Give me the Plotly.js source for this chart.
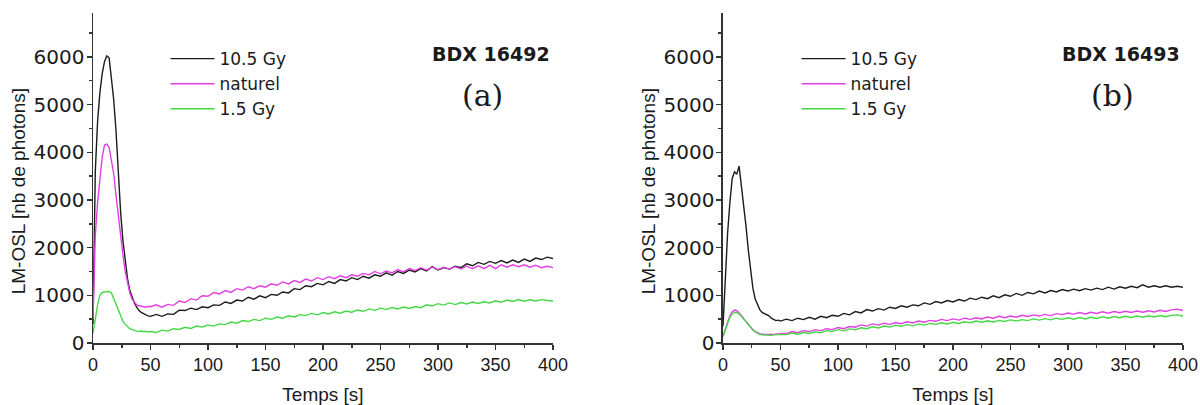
<!DOCTYPE html>
<html>
<head>
<meta charset="utf-8">
<script src="https://cdn.plot.ly/plotly-3.0.1.min.js"></script>
<style>html,body{margin:0;padding:0;background:#fff;}#chart{width:1200px;height:405px;}</style>
</head>
<body>
<div id="chart"></div>
<script>
// Time axis [s]
const T = [0,2,4,6,8,10,12,14,16,18,20,22,24,26,28,30,32,34,36,38,40,42,44,46,48,50,
55,60,65,70,75,80,85,90,95,100,105,110,115,120,125,130,135,140,145,150,155,160,165,170,175,180,185,190,195,200,
205,210,215,220,225,230,235,240,245,250,255,260,265,270,275,280,285,290,295,300,305,310,315,320,325,330,335,340,345,350,
355,360,365,370,375,380,385,390,395,400];

const seriesNames = ['10.5 Gy', 'naturel', '1.5 Gy'];
const panelLabels = ['BDX 16492', 'BDX 16493'];
const panelLetters = ['(a)', '(b)'];
const xTitle = 'Temps [s]';
const yTitle = 'LM-OSL [nb de photons]';

// Panel (a) BDX 16492
const a_105Gy = [400,3600,4650,5250,5650,5900,6020,5980,5550,5100,4450,3500,2750,2150,1740,1350,1100,950,840,750,680,640,610,590,570,560,
600,560,610,600,690,680,730,700,760,740,
800,790,860,830,900,880,960,920,990,950,
1020,1000,1070,1050,1140,1120,1200,1180,1250,1220,
1290,1250,1330,1300,1370,1330,1400,1360,1430,1400,
1470,1420,1500,1460,1530,1490,1560,1510,1600,1530,
1580,1550,1610,1580,1660,1620,1690,1650,1710,1670,
1730,1680,1740,1690,1760,1710,1780,1750,1800,1770];
const a_naturel = [500,2250,2950,3450,3900,4150,4170,4100,3850,3550,3100,2650,2250,1850,1500,1250,1050,920,850,800,780,770,760,750,770,760,
800,750,810,790,880,850,930,900,990,980,
1060,1030,1100,1060,1140,1110,1180,1140,1200,1170,
1240,1210,1280,1240,1310,1270,1340,1300,1370,1330,
1390,1350,1410,1370,1430,1400,1460,1430,1500,1450,
1510,1470,1540,1490,1560,1520,1580,1530,1590,1540,
1590,1550,1600,1550,1610,1560,1620,1560,1630,1560,
1640,1590,1640,1600,1640,1590,1630,1580,1610,1580];
const a_15Gy = [200,520,800,1000,1060,1070,1080,1080,1050,930,790,660,540,460,390,340,300,280,260,250,240,250,235,245,230,240,
220,270,250,300,285,330,305,355,335,380,
355,400,385,440,415,470,450,495,470,520,
495,545,520,570,545,595,575,620,590,640,
610,655,625,670,645,690,665,715,685,730,
700,745,715,755,725,765,740,800,775,825,
795,840,805,850,820,860,830,865,840,885,
855,900,870,910,875,905,880,910,890,880];

// Panel (b) BDX 16493
const b_105Gy = [350,1400,2300,2950,3450,3590,3540,3710,3300,2950,2450,1950,1500,1150,920,800,700,640,620,600,570,520,490,470,480,460,
500,470,520,490,540,500,560,530,580,560,
620,590,660,630,700,670,720,690,750,725,
780,750,800,780,840,810,870,840,890,860,
910,880,940,910,960,930,990,950,1010,980,
1040,1000,1060,1030,1090,1050,1100,1070,1120,1090,
1130,1095,1140,1110,1150,1120,1170,1130,1180,1150,
1190,1160,1220,1170,1200,1170,1200,1170,1190,1170];
const b_naturel = [150,300,450,570,650,690,680,640,580,510,450,390,330,280,240,210,195,185,180,175,180,185,175,190,185,200,
195,240,215,260,240,280,260,300,280,325,
300,345,330,380,355,400,375,415,390,430,
405,445,420,460,435,475,455,495,470,505,
480,520,495,530,505,545,520,560,530,565,
540,580,555,590,565,600,575,615,595,630,
605,640,610,645,620,655,625,660,635,665,
640,670,645,675,650,685,660,695,710,680];
const b_15Gy = [130,280,430,540,610,640,640,610,560,500,440,380,320,270,230,200,180,170,165,160,165,160,170,165,175,180,
175,210,185,220,200,235,215,260,240,280,
255,295,275,320,300,340,315,355,335,375,
350,385,360,400,375,410,390,425,400,435,
410,445,425,460,435,465,440,475,450,485,
460,490,470,505,480,510,485,520,495,530,
500,535,505,540,515,550,520,555,530,560,
535,565,540,570,545,575,550,580,590,560];

const colors = ['#1c1c1c', '#e23fe2', '#45d845'];
const panels = [[a_105Gy, a_naturel, a_15Gy], [b_105Gy, b_naturel, b_15Gy]];

const traces = [];
panels.forEach((set, p) => {
  set.forEach((ys, i) => {
    traces.push({
      type: 'scatter', mode: 'lines', x: T, y: ys,
      name: seriesNames[i],
      xaxis: p === 0 ? 'x' : 'x2', yaxis: p === 0 ? 'y' : 'y2',
      legend: p === 0 ? 'legend' : 'legend2',
      line: {color: colors[i], width: 1.4},
      hoverinfo: 'skip'
    });
  });
});

const axCol = '#333';
const txtCol = '#1a1a1a';
const sans = 'Liberation Sans, Arial, sans-serif';
function xAxis(domain, anchor) {
  return {
    domain: domain, anchor: anchor, range: [0, 400], tick0: 0, dtick: 50,
    ticks: 'outside', ticklen: 5, tickwidth: 1.5, tickcolor: axCol,
    showline: true, linecolor: axCol, linewidth: 1.5,
    showgrid: false, zeroline: false,
    tickfont: {family: sans, size: 18, color: txtCol},
    minor: {dtick: 25, ticks: 'outside', ticklen: 3, tickwidth: 1.5, tickcolor: axCol, showgrid: false},
    title: {text: xTitle, font: {family: sans, size: 19, color: txtCol}, standoff: 13}
  };
}
function yAxis(anchor) {
  return {
    anchor: anchor, range: [0, 6920], tick0: 0, dtick: 1000,
    ticks: 'outside', ticklen: 5, tickwidth: 1.5, tickcolor: axCol,
    showline: true, linecolor: axCol, linewidth: 1.5,
    showgrid: false, zeroline: false, ticklabelstandoff: -2,
    tickfont: {family: 'DejaVu Sans, sans-serif', size: 20, color: txtCol},
    minor: {dtick: 500, ticks: 'outside', ticklen: 3, tickwidth: 1.5, tickcolor: axCol, showgrid: false}
  };
}
function legendCfg(x) {
  return {
    x: x, y: 0.915, xanchor: 'left', yanchor: 'top',
    bgcolor: 'rgba(0,0,0,0)', borderwidth: 0, itemwidth: 44,
    font: {family: 'DejaVu Sans, sans-serif', size: 17, color: txtCol},
    tracegroupgap: 0
  };
}

const yTitleAnn = (x) => ({text: yTitle, xref: 'paper', yref: 'paper', x: x, y: 0.4606, xanchor: 'center', yanchor: 'middle',
  textangle: -90, showarrow: false, font: {family: sans, size: 19, color: txtCol}});

const layout = {
  width: 1200, height: 405,
  margin: {l: 93, r: 17, t: 13, b: 62},
  paper_bgcolor: '#ffffff', plot_bgcolor: '#ffffff',
  showlegend: true,
  xaxis: xAxis([0, 0.42202], 'y'),
  yaxis: yAxis('x'),
  xaxis2: xAxis([0.57798, 1], 'y2'),
  yaxis2: yAxis('x2'),
  legend: legendCfg(0.0665),
  legend2: legendCfg(0.6455),
  annotations: [
    yTitleAnn(-0.0685),
    yTitleAnn(0.5095),
    {text: panelLabels[0], xref: 'paper', yref: 'paper', x: 0.3651, y: 0.8758, xanchor: 'center', yanchor: 'middle', showarrow: false,
     font: {family: 'DejaVu Sans, sans-serif', size: 19, color: txtCol, weight: 'bold'}},
    {text: panelLetters[0], xref: 'paper', yref: 'paper', x: 0.3573, y: 0.7515, xanchor: 'center', yanchor: 'middle', showarrow: false,
     font: {family: 'DejaVu Serif, serif', size: 30, color: txtCol}},
    {text: panelLabels[1], xref: 'paper', yref: 'paper', x: 0.9431, y: 0.8758, xanchor: 'center', yanchor: 'middle', showarrow: false,
     font: {family: 'DejaVu Sans, sans-serif', size: 19, color: txtCol, weight: 'bold'}},
    {text: panelLetters[1], xref: 'paper', yref: 'paper', x: 0.9349, y: 0.7515, xanchor: 'center', yanchor: 'middle', showarrow: false,
     font: {family: 'DejaVu Serif, serif', size: 30, color: txtCol}}
  ]
};

Plotly.newPlot('chart', traces, layout, {displayModeBar: false, staticPlot: true});
</script>
</body>
</html>
